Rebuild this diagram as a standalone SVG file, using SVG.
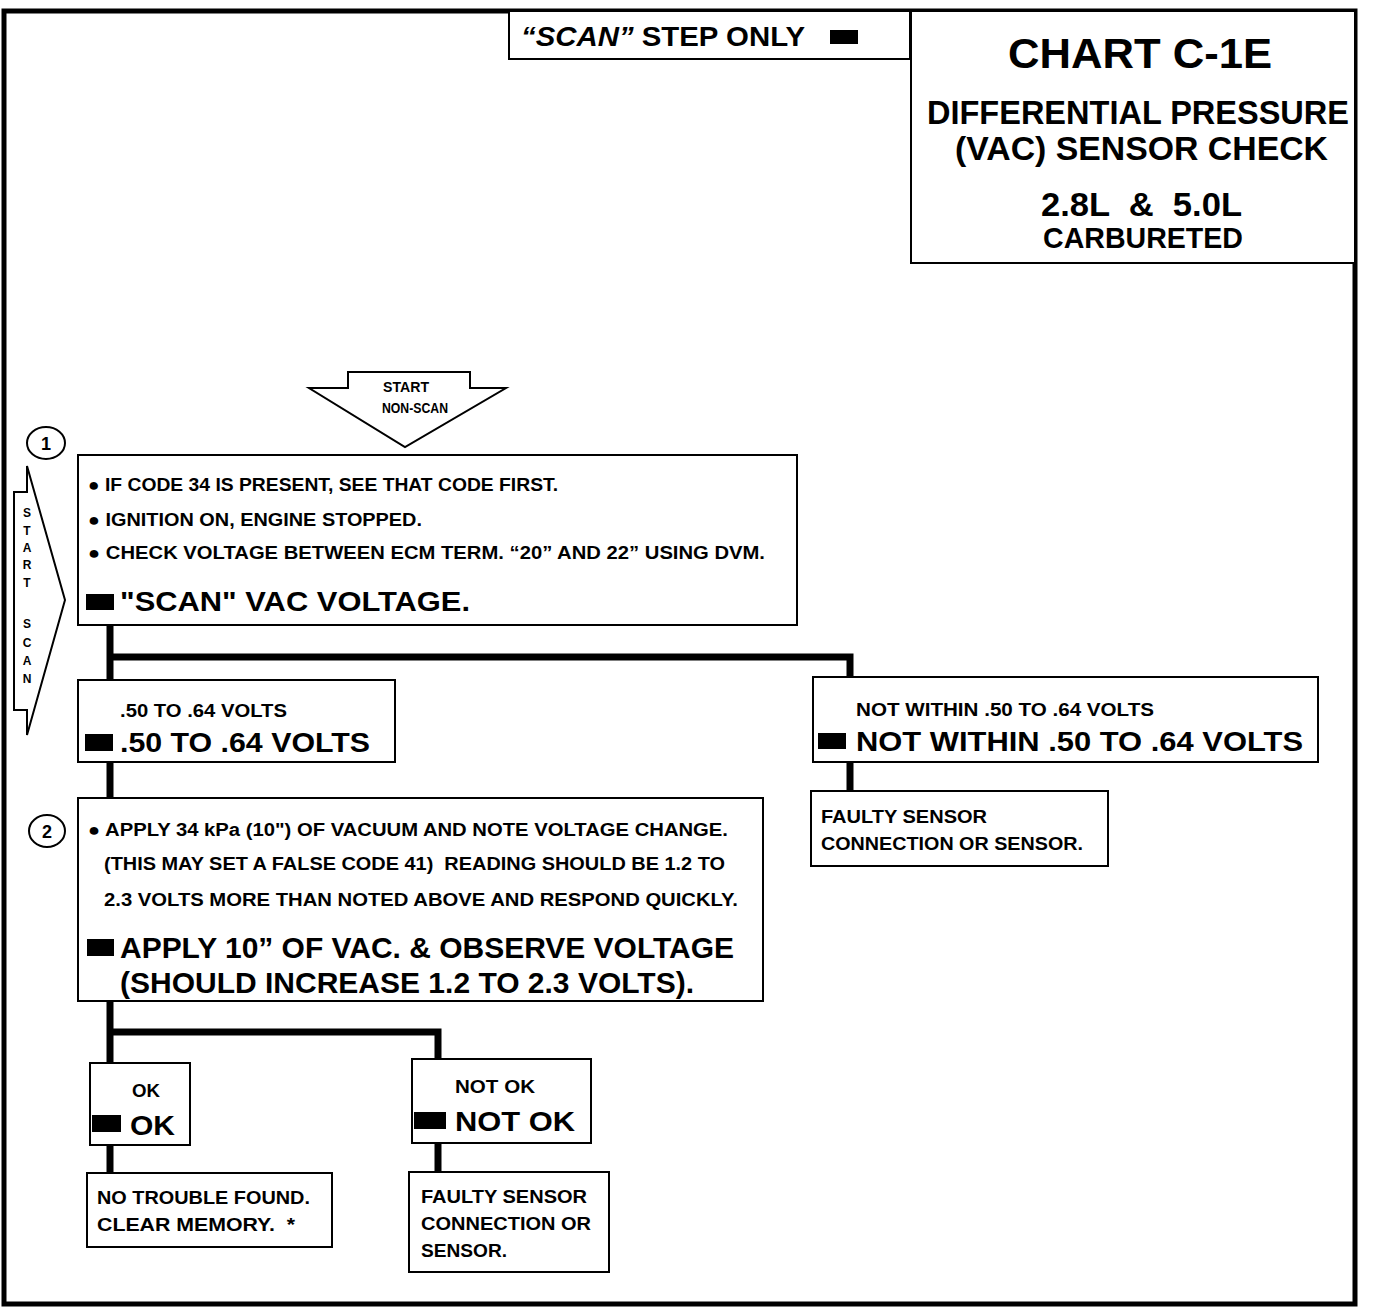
<svg xmlns="http://www.w3.org/2000/svg" width="1376" height="1310" viewBox="0 0 1376 1310">
<style>
text{font-family:"Liberation Sans",Arial,sans-serif;font-weight:bold;fill:#000;white-space:pre}
.box{fill:#fff;stroke:#000;stroke-width:2}
.frame{fill:none;stroke:#000;stroke-width:5}
.conn{fill:none;stroke:#000;stroke-width:7;stroke-linejoin:miter}
.s{font-size:18px}
.b{font-size:28px}
.m{font-size:14px}
.v{font-size:12px;text-anchor:middle}
.blk{fill:#000}
</style>
<rect width="1376" height="1310" fill="#fff"/>
<g id="frame">
<path class="frame" d="M4,1304 V11 H1355 V1304 Z"/>
</g>
<g id="scan-step-only">
<rect class="box" x="509" y="11" width="401" height="48"/>
<text x="521" y="46" font-size="28" textLength="284" lengthAdjust="spacingAndGlyphs"><tspan font-style="italic">“SCAN”</tspan> STEP ONLY</text>
<rect class="blk" x="830" y="30" width="28" height="14"/>
</g>
<g id="title">
<rect class="box" x="911" y="11" width="444" height="252"/>
<text x="1008" y="68" font-size="42" textLength="264" lengthAdjust="spacingAndGlyphs">CHART C-1E</text>
<text x="927" y="124" font-size="34" textLength="422" lengthAdjust="spacingAndGlyphs">DIFFERENTIAL PRESSURE</text>
<text x="955" y="160" font-size="33" textLength="373" lengthAdjust="spacingAndGlyphs">(VAC) SENSOR CHECK</text>
<text x="1041" y="216" font-size="33" textLength="201" lengthAdjust="spacingAndGlyphs">2.8L  &amp;  5.0L</text>
<text x="1043" y="248" font-size="30" textLength="200" lengthAdjust="spacingAndGlyphs">CARBURETED</text>
</g>
<g id="start-nonscan">
<polygon class="box" points="348,372 470,372 470,388 506,388 405,447 309,388 348,388"/>
<text class="m" x="383" y="392" textLength="46" lengthAdjust="spacingAndGlyphs">START</text>
<text class="m" x="382" y="413" textLength="66" lengthAdjust="spacingAndGlyphs">NON-SCAN</text>
</g>
<g id="start-scan">
<polygon class="box" points="27,466 65,600 27,735 27,710 14,710 14,492 27,492"/>
<text class="v" x="27" y="517">S</text>
<text class="v" x="27" y="535">T</text>
<text class="v" x="27" y="552">A</text>
<text class="v" x="27" y="569">R</text>
<text class="v" x="27" y="587">T</text>
<text class="v" x="27" y="628">S</text>
<text class="v" x="27" y="647">C</text>
<text class="v" x="27" y="665">A</text>
<text class="v" x="27" y="683">N</text>
</g>
<g id="connectors">
<path class="conn" d="M110,625 V680"/>
<path class="conn" d="M110,657 H850 V677"/>
<path class="conn" d="M110,762 V798"/>
<path class="conn" d="M850,762 V791"/>
<path class="conn" d="M110,1001 V1063"/>
<path class="conn" d="M110,1032 H438 V1059"/>
<path class="conn" d="M110,1145 V1173"/>
<path class="conn" d="M438,1143 V1172"/>
</g>
<g id="step1-num">
<ellipse class="box" cx="46" cy="443" rx="19" ry="16"/>
<text x="46" y="450" font-size="18" text-anchor="middle">1</text>
</g>
<g id="step1">
<rect class="box" x="78" y="455" width="719" height="170"/>
<text class="s" x="88" y="491" textLength="470" lengthAdjust="spacingAndGlyphs">● IF CODE 34 IS PRESENT, SEE THAT CODE FIRST.</text>
<text class="s" x="88" y="526" textLength="334" lengthAdjust="spacingAndGlyphs">● IGNITION ON, ENGINE STOPPED.</text>
<text class="s" x="88" y="559" textLength="677" lengthAdjust="spacingAndGlyphs">● CHECK VOLTAGE BETWEEN ECM TERM. “20” AND 22” USING DVM.</text>
<rect class="blk" x="86" y="594" width="28" height="16"/>
<text class="b" x="120" y="611" textLength="350" lengthAdjust="spacingAndGlyphs">"SCAN" VAC VOLTAGE.</text>
</g>
<g id="in-range">
<rect class="box" x="78" y="680" width="317" height="82"/>
<text class="s" x="120" y="717" textLength="167" lengthAdjust="spacingAndGlyphs">.50 TO .64 VOLTS</text>
<rect class="blk" x="85" y="734" width="28" height="17"/>
<text class="b" x="120" y="752" textLength="250" lengthAdjust="spacingAndGlyphs">.50 TO .64 VOLTS</text>
</g>
<g id="not-within">
<rect class="box" x="813" y="677" width="505" height="85"/>
<text class="s" x="856" y="716" textLength="298" lengthAdjust="spacingAndGlyphs">NOT WITHIN .50 TO .64 VOLTS</text>
<rect class="blk" x="818" y="733" width="28" height="16"/>
<text class="b" x="856" y="751" textLength="447" lengthAdjust="spacingAndGlyphs">NOT WITHIN .50 TO .64 VOLTS</text>
</g>
<g id="faulty-1">
<rect class="box" x="811" y="791" width="297" height="75"/>
<text class="s" x="821" y="823" textLength="166" lengthAdjust="spacingAndGlyphs">FAULTY SENSOR</text>
<text class="s" x="821" y="850" textLength="262" lengthAdjust="spacingAndGlyphs">CONNECTION OR SENSOR.</text>
</g>
<g id="step2-num">
<ellipse class="box" cx="47" cy="831" rx="18" ry="16"/>
<text x="47" y="838" font-size="18" text-anchor="middle">2</text>
</g>
<g id="step2">
<rect class="box" x="78" y="798" width="685" height="203"/>
<text class="s" x="88" y="836" textLength="640" lengthAdjust="spacingAndGlyphs">● APPLY 34 kPa (10") OF VACUUM AND NOTE VOLTAGE CHANGE.</text>
<text class="s" x="104" y="870" textLength="621" lengthAdjust="spacingAndGlyphs">(THIS MAY SET A FALSE CODE 41)  READING SHOULD BE 1.2 TO</text>
<text class="s" x="104" y="906" textLength="634" lengthAdjust="spacingAndGlyphs">2.3 VOLTS MORE THAN NOTED ABOVE AND RESPOND QUICKLY.</text>
<rect class="blk" x="87" y="939" width="27" height="17"/>
<text x="120" y="958" font-size="30" textLength="614" lengthAdjust="spacingAndGlyphs">APPLY 10” OF VAC. &amp; OBSERVE VOLTAGE</text>
<text x="120" y="993" font-size="30" textLength="574" lengthAdjust="spacingAndGlyphs">(SHOULD INCREASE 1.2 TO 2.3 VOLTS).</text>
</g>
<g id="ok">
<rect class="box" x="90" y="1063" width="100" height="82"/>
<text class="s" x="132" y="1097" textLength="28" lengthAdjust="spacingAndGlyphs">OK</text>
<rect class="blk" x="92" y="1115" width="29" height="17"/>
<text class="b" x="130" y="1135" textLength="45" lengthAdjust="spacingAndGlyphs">OK</text>
</g>
<g id="no-trouble">
<rect class="box" x="87" y="1173" width="245" height="74"/>
<text class="s" x="97" y="1204" textLength="213" lengthAdjust="spacingAndGlyphs">NO TROUBLE FOUND.</text>
<text class="s" x="97" y="1231" textLength="198" lengthAdjust="spacingAndGlyphs">CLEAR MEMORY.  *</text>
</g>
<g id="not-ok">
<rect class="box" x="412" y="1059" width="179" height="84"/>
<text class="s" x="455" y="1093" textLength="80" lengthAdjust="spacingAndGlyphs">NOT OK</text>
<rect class="blk" x="414" y="1112" width="32" height="17"/>
<text class="b" x="455" y="1131" textLength="120" lengthAdjust="spacingAndGlyphs">NOT OK</text>
</g>
<g id="faulty-2">
<rect class="box" x="409" y="1172" width="200" height="100"/>
<text class="s" x="421" y="1203" textLength="166" lengthAdjust="spacingAndGlyphs">FAULTY SENSOR</text>
<text class="s" x="421" y="1230" textLength="170" lengthAdjust="spacingAndGlyphs">CONNECTION OR</text>
<text class="s" x="421" y="1257" textLength="86" lengthAdjust="spacingAndGlyphs">SENSOR.</text>
</g>
</svg>
